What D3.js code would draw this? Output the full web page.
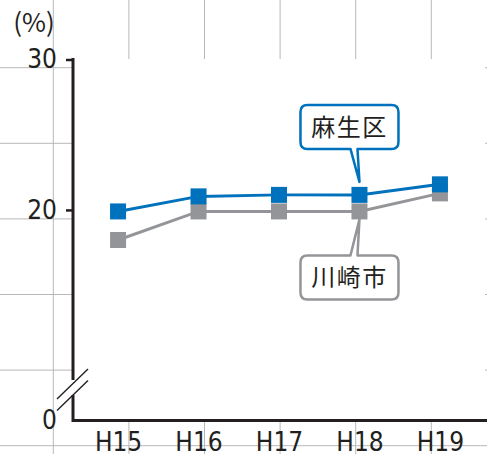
<!DOCTYPE html>
<html>
<head>
<meta charset="utf-8">
<script src="https://cdn.jsdelivr.net/npm/d3@7"></script>
<style>
  body { margin: 0; background: #fff; }
  svg { display: block; }
</style>
</head>
<body>
<div id="chart"></div>
<script>
// years on the x axis
var years = ["H15", "H16", "H17", "H18", "H19"];
// 麻生区 (blue) and 川崎市 (gray), in %
var asaoValues = [19.9, 20.9, 21.0, 21.0, 21.7];
var kawasakiValues = [18.0, 19.9, 19.9, 19.9, 21.1];
var yTicks = [20, 30];
var yBreakLabel = "0";
var unitLabel = "(%)";

var width = 487,
    height = 454;

var axisX = 73,
    plotTop = 59.5,
    plotBottom = 420.5,
    plotRight = 485;

var numFont = '"Liberation Sans Narrow", "DejaVu Sans Condensed", "Arial Narrow", sans-serif';
var jpFont = '"Noto Sans CJK JP", sans-serif';
var ink = "#231f20";
var blue = "#0071bc";
var gray = "#939598";

var svg = d3.select("#chart").append("svg")
    .attr("width", width)
    .attr("height", height);

//background grid of the page, covered by the plot area
var gridStep = 75.6;
var grid = svg.append("g").attr("stroke", "#b8b8b8").attr("stroke-width", 1);
grid.selectAll(".v").data(d3.range(53.3, width, gridStep)).enter().append("line")
    .attr("x1", function (d) { return d; }).attr("x2", function (d) { return d; })
    .attr("y1", 0).attr("y2", height);
grid.selectAll(".h").data(d3.range(67.7, height, gridStep)).enter().append("line")
    .attr("y1", function (d) { return d; }).attr("y2", function (d) { return d; })
    .attr("x1", 0).attr("x2", width);

svg.append("rect")
    .attr("x", 72).attr("y", 59)
    .attr("width", plotRight - 72).attr("height", 360)
    .attr("fill", "#fff");

//scales
var x = d3.scalePoint()
    .domain(years)
    .range([axisX, plotRight])
    .padding(0.56);

var y = d3.scaleLinear()
    .domain([6, 30])  //axis is broken, bottom is labelled 0
    .range([plotBottom, plotTop]);

//lines and markers
var line = d3.line()
    .x(function (d, i) { return x(years[i]); })
    .y(function (d) { return y(d); });

var markerSize = 16;

function drawSeries(values, color) {
    svg.append("path")
        .datum(values)
        .attr("d", line)
        .attr("fill", "none")
        .attr("stroke", color)
        .attr("stroke-width", 3);

    svg.append("g").selectAll("rect")
        .data(values)
        .enter().append("rect")
        .attr("x", function (d, i) { return x(years[i]) - markerSize / 2; })
        .attr("y", function (d) { return y(d) - markerSize / 2; })
        .attr("width", markerSize)
        .attr("height", markerSize)
        .attr("fill", color);
}

drawSeries(kawasakiValues, gray);
drawSeries(asaoValues, blue);

//axes
var yAxis = svg.append("g")
    .attr("transform", "translate(" + axisX + ",0)")
    .call(d3.axisLeft(y).tickValues(yTicks).tickSize(7).tickPadding(9));
yAxis.select(".domain").remove();
yAxis.selectAll("line").attr("stroke", ink).attr("stroke-width", 2.5);
yAxis.selectAll("text")
    .attr("fill", ink)
    .style("font-family", numFont)
    .style("font-size", "26px");

svg.append("text")
    .attr("x", axisX - 16)
    .attr("y", plotBottom)
    .attr("dy", "0.32em")
    .attr("text-anchor", "end")
    .attr("fill", ink)
    .style("font-family", numFont)
    .style("font-size", "26px")
    .text(yBreakLabel);

var xAxis = svg.append("g")
    .attr("transform", "translate(0," + plotBottom + ")")
    .call(d3.axisBottom(x).tickSize(0).tickPadding(12));
xAxis.select(".domain").remove();
xAxis.selectAll("text")
    .attr("fill", ink)
    .style("font-family", numFont)
    .style("font-size", "26px");

svg.append("path")
    .attr("d", "M" + axisX + "," + (plotTop - 1.5) + "V" + plotBottom + "H" + width)
    .attr("fill", "none")
    .attr("stroke", ink)
    .attr("stroke-width", 3);

//axis break
svg.append("rect")
    .attr("x", axisX - 3).attr("y", 380)
    .attr("width", 6).attr("height", 15)
    .attr("fill", "#fff");
svg.append("g").attr("stroke", ink).attr("stroke-width", 1.4)
    .selectAll("line").data([0, 11.5]).enter().append("line")
    .attr("x1", axisX - 16).attr("y1", function (d) { return 399 + d; })
    .attr("x2", axisX + 15).attr("y2", function (d) { return 369 + d; });

//unit label
svg.append("text")
    .attr("x", 34)
    .attr("y", 32)
    .attr("text-anchor", "middle")
    .attr("fill", ink)
    .style("font-family", jpFont)
    .style("font-size", "26px")
    .text(unitLabel);

//callouts
function callout(name, color, i, values, below) {
    var w = 98, h = 44, r = 7;
    var tipX = x(years[i]);
    var tipY, x0 = tipX - 59, y0;
    if (below) {
        tipY = y(values[i]) + markerSize / 2;
        y0 = tipY + 36;
    } else {
        tipY = y(values[i]) - markerSize / 2 - 5;
        y0 = tipY - 33 - h;
    }
    var x1 = x0 + w, y1 = y0 + h;
    var b0 = tipX - 9, b1 = tipX - 2;
    var p = "M" + (x0 + r) + "," + y0;
    if (below) p += "H" + b0 + "L" + tipX + "," + tipY + "L" + b1 + "," + y0;
    p += "H" + (x1 - r) + "Q" + x1 + "," + y0 + " " + x1 + "," + (y0 + r) +
        "V" + (y1 - r) + "Q" + x1 + "," + y1 + " " + (x1 - r) + "," + y1;
    if (!below) p += "H" + b1 + "L" + tipX + "," + tipY + "L" + b0 + "," + y1;
    p += "H" + (x0 + r) + "Q" + x0 + "," + y1 + " " + x0 + "," + (y1 - r) +
        "V" + (y0 + r) + "Q" + x0 + "," + y0 + " " + (x0 + r) + "," + y0 + "Z";

    svg.append("path")
        .attr("d", p)
        .attr("fill", "#fff")
        .attr("stroke", color)
        .attr("stroke-width", 2.5)
        .attr("stroke-linejoin", "round");

    svg.append("text")
        .attr("x", (x0 + x1) / 2)
        .attr("y", (y0 + y1) / 2)
        .attr("dy", "0.36em")
        .attr("text-anchor", "middle")
        .attr("fill", ink)
        .style("font-family", jpFont)
        .style("font-size", "24px")
        .style("letter-spacing", "1.5px")
        .text(name);
}

callout("麻生区", blue, 3, asaoValues, false);
callout("川崎市", gray, 3, kawasakiValues, true);
</script>
</body>
</html>
